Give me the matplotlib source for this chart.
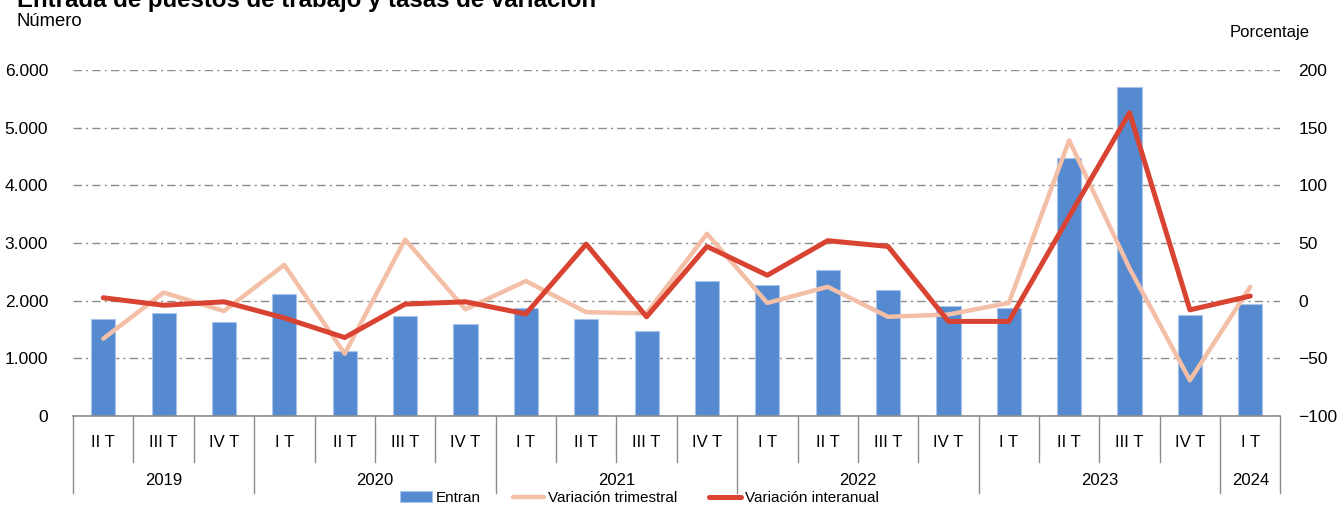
import matplotlib.pyplot as plt
import matplotlib.transforms as mtransforms
from matplotlib.ticker import FuncFormatter

plt.rcParams['font.family'] = ['Liberation Sans', 'DejaVu Sans']

# data
quarters = ["II T", "III T", "IV T",
            "I T", "II T", "III T", "IV T",
            "I T", "II T", "III T", "IV T",
            "I T", "II T", "III T", "IV T",
            "I T", "II T", "III T", "IV T",
            "I T"]
years = ["2019", "2020", "2021", "2022", "2023", "2024"]
year_counts = [3, 4, 4, 4, 4, 1]

entran = [1680, 1780, 1625, 2115, 1130, 1730, 1595,
          1865, 1675, 1480, 2340, 2275, 2535, 2180, 1910,
          1875, 4465, 5705, 1745, 1940]
var_trimestral = [-33, 7, -9, 31, -46, 53, -7.5,
                  17, -10, -11, 58, -2, 12, -14, -12,
                  -2, 139, 28, -69, 12]
var_interanual = [2.5, -4, -1, -15, -32, -3, -1,
                  -11.5, 49, -14, 47, 22, 52, 47, -18,
                  -18, 73, 163, -8, 4]

blue = "#5589D0"
light = "#F4BFA7"
red = "#D94432"
grey = "#8C8C8C"

fig = plt.figure(figsize=(13.38, 5.07), dpi=100)
ax = fig.add_axes([0.0546, 0.1795, 0.9024, 0.6825])
ax2 = ax.twinx()

x = list(range(len(entran)))
ax.bar(x, entran, width=0.4, color=blue, edgecolor="#A9C4EB", linewidth=0.8,
       label="Entran", zorder=2)
ax2.plot(x, var_trimestral, color=light, lw=3.2, solid_capstyle="round",
         label="Variación trimestral", zorder=3)
ax2.plot(x, var_interanual, color=red, lw=3.6, solid_capstyle="round",
         label="Variación interanual", zorder=4)

ax.set_xlim(-0.5, len(x) - 0.5)
ax.set_ylim(0, 6000)
ax2.set_ylim(-100, 200)
ax.set_yticks(range(0, 6001, 1000))
ax2.set_yticks(range(-100, 201, 50))
ax.yaxis.set_major_formatter(FuncFormatter(lambda v, p: f"{int(v):,}".replace(",", ".")))

for a in (ax, ax2):
    for s in a.spines.values():
        s.set_visible(False)
    a.tick_params(axis="y", length=0, labelsize=12.5, colors="black")
ax.tick_params(axis="y", pad=18)
ax2.tick_params(axis="y", pad=13)

ax.yaxis.grid(True, color=grey, lw=1, linestyle=(0, (6, 3, 1.5, 3)), zorder=0)
ax.set_axisbelow(True)
ax.spines["bottom"].set_visible(True)
ax.spines["bottom"].set_color(grey)
ax.spines["bottom"].set_linewidth(1.2)

# category axis: quarter labels and year groups
ax.set_xticks(x)
ax.set_xticklabels(quarters, fontsize=12)
ax.tick_params(axis="x", length=0, pad=14)

trans = mtransforms.blended_transform_factory(ax.transData, ax.transAxes)
bounds = [0]
for c in year_counts:
    bounds.append(bounds[-1] + c)
for i in range(len(x) + 1):
    low = -0.2225 if i in bounds else -0.133
    ax.plot([i - 0.5, i - 0.5], [0, low], transform=trans, color=grey, lw=1,
            clip_on=False)
for yr, a, b in zip(years, bounds[:-1], bounds[1:]):
    ax.text((a + b - 1) / 2, -0.185, yr, transform=trans, ha="center",
            va="center", fontsize=12)

fig.text(0.0127, 1.0, "Entrada de puestos de trabajo y tasas de variación",
         fontsize=17.3, fontweight="bold", va="center", ha="left")
fig.text(0.0127, 0.958, "Número", fontsize=13.3, va="center", ha="left")
fig.text(0.979, 0.935, "Porcentaje", fontsize=12, va="center", ha="right")

h1, l1 = ax.get_legend_handles_labels()
h2, l2 = ax2.get_legend_handles_labels()
fig.legend(h1 + h2, l1 + l2, loc="center", bbox_to_anchor=(0.478, 0.018),
           ncol=3, frameon=False, fontsize=11, handlelength=2.05,
           handletextpad=0.26, columnspacing=2.1, borderpad=0)

fig.savefig("out.png", dpi=100)
